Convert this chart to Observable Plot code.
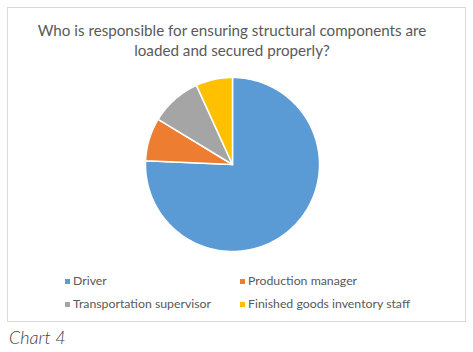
<!DOCTYPE html>
<html><head><meta charset="utf-8">
<script src="https://cdn.jsdelivr.net/npm/d3@7"></script>
<script src="https://cdn.jsdelivr.net/npm/@observablehq/plot@0.6"></script>
<style>
html,body{margin:0;padding:0;background:#fff;width:473px;height:352px;overflow:hidden;}
#box{position:absolute;left:7px;top:7px;width:457px;height:313px;border:1.5px solid #d9d9d9;}
#title{position:absolute;left:0;width:464px;top:20px;text-align:center;font-family:Lato,sans-serif;font-size:15.2px;line-height:20px;color:#595959;}
#pie{position:absolute;left:142px;top:74px;}
.leg{position:absolute;font-family:Lato,sans-serif;font-size:12.3px;color:#595959;line-height:14px;white-space:nowrap;}
.leg i{position:absolute;left:-8px;top:5px;width:5px;height:5px;}
#cap{position:absolute;left:9px;top:326px;font-family:Lato,sans-serif;font-style:italic;font-weight:300;font-size:18px;color:#404040;}
</style></head><body>
<div id="box"></div>
<div id="title">Who is responsible for ensuring structural components are<br>loaded and secured properly?</div>
<div id="pie"></div>
<div id="legend"></div>
<div id="cap">Chart 4</div>
<script>
const categories = ["Driver", "Production manager", "Transportation supervisor", "Finished goods inventory staff"];
const values = [75.7, 8.0, 9.5, 6.8];
const colors = ["#5b9bd5", "#ed7d31", "#a5a5a5", "#ffc000"];

const arcs = d3.pie().sort(null).value(d => d.value)(categories.map((c, i) => ({category: c, value: values[i]})));
const pts = [];
for (const a of arcs) {
  const c = a.data.category;
  pts.push({category: c, x: 0, y: 0});
  const n = Math.max(4, Math.ceil((a.endAngle - a.startAngle) / 0.02));
  for (let k = 0; k <= n; k++) {
    const t = a.startAngle + (a.endAngle - a.startAngle) * k / n;
    pts.push({category: c, x: Math.sin(t), y: Math.cos(t)});
  }
}
const chart = Plot.plot({
  width: 180, height: 180, margin: 3,
  x: {domain: [-1, 1], axis: null},
  y: {domain: [-1, 1], axis: null},
  color: {domain: categories, range: colors},
  style: {overflow: "visible", background: "transparent"},
  marks: [
    Plot.line(pts, {x: "x", y: "y", z: "category", fill: "category", stroke: "white", strokeWidth: 1.5, curve: "linear-closed", strokeLinejoin: "round"})
  ]
});
document.getElementById("pie").appendChild(chart);

const legPos = [[73, 274], [248, 274], [73, 297], [248, 297]];
const leg = document.getElementById("legend");
categories.forEach((c, i) => {
  const d = document.createElement("div");
  d.className = "leg";
  d.style.left = legPos[i][0] + "px";
  d.style.top = legPos[i][1] + "px";
  d.innerHTML = `<i style="background:${colors[i]}"></i>${c}`;
  leg.appendChild(d);
});
</script>
</body></html>
